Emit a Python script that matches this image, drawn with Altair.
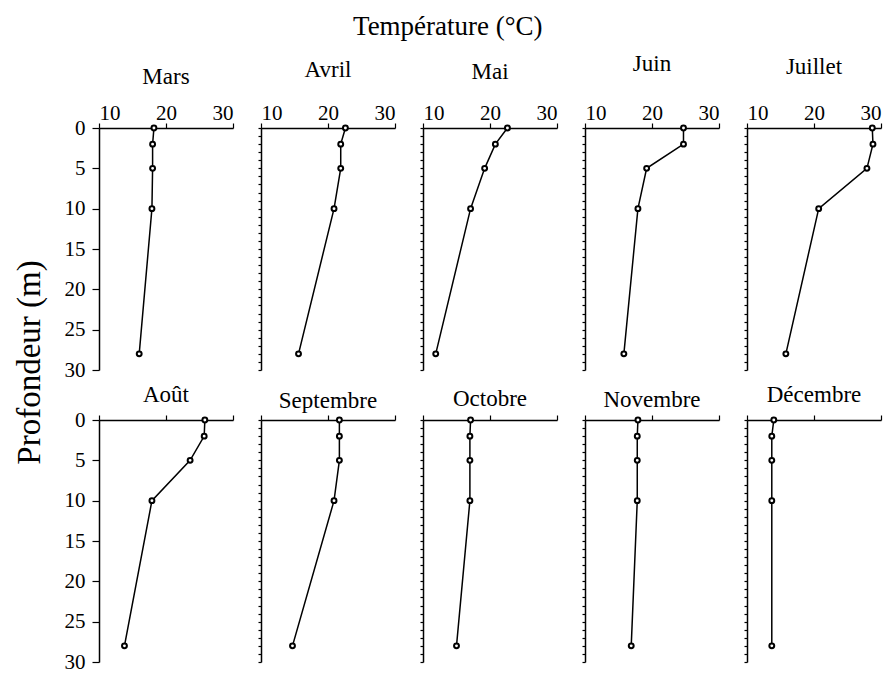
import altair as alt
import pandas as pd

months = ["Mars", "Avril", "Mai", "Juin", "Juillet",
          "Août", "Septembre", "Octobre", "Novembre", "Décembre"]
depths = [0, 2, 5, 10, 28]
temps = {
    "Mars":      [18.2, 18.0, 18.0, 17.9, 16.0],
    "Avril":     [22.6, 21.9, 21.9, 20.9, 15.6],
    "Mai":       [22.6, 20.8, 19.2, 17.1, 11.9],
    "Juin":      [24.7, 24.7, 19.2, 17.9, 15.8],
    "Juillet":   [28.7, 28.8, 27.9, 20.7, 15.8],
    "Août":      [25.8, 25.7, 23.6, 17.9, 13.8],
    "Septembre": [21.7, 21.7, 21.7, 20.9, 14.7],
    "Octobre":   [17.1, 17.0, 17.0, 17.0, 15.0],
    "Novembre":  [17.9, 17.8, 17.8, 17.8, 16.9],
    "Décembre":  [14.0, 13.7, 13.7, 13.7, 13.7],
}
x_ticks = [10, 20, 30]
y_major = [0, 5, 10, 15, 20, 25, 30]
y_minor = list(range(0, 31))

rows = []
for m in months:
    for d, t in zip(depths, temps[m]):
        rows.append({"mois": m, "prof": d, "temp": t})
df = pd.DataFrame(rows)

FONT = "Liberation Serif"
title_offsets = [13, 20, 18, 26, 23, 2, 1, 3, 2, 7]
panels = []
for i, m in enumerate(months):
    row = i // 5
    col = i % 5
    xaxis = alt.Axis(orient="top", values=x_ticks, labels=(row == 0), title=None,
                     grid=False, tickSize=5, labelPadding=0)
    if col == 0:
        yaxis = alt.Axis(values=y_major, title=None, grid=False, tickSize=7, labelPadding=7)
    else:
        yaxis = alt.Axis(values=y_minor, labels=False, title=None, grid=False, tickSize=3)
    x = alt.X("temp:Q", scale=alt.Scale(domain=[10, 30], nice=False, zero=False), axis=xaxis)
    y = alt.Y("prof:Q", scale=alt.Scale(domain=[0, 30], reverse=True, nice=False), axis=yaxis)
    base = alt.Chart(df).transform_filter(alt.datum.mois == m)
    line = base.mark_line(color="black", strokeWidth=1.5).encode(x=x, y=y, order="prof:Q")
    pts = base.mark_point(shape="circle", size=24, filled=False, color="black",
                          fill="white", fillOpacity=1, strokeWidth=2).encode(x=x, y=y)
    panels.append(
        alt.layer(line, pts).properties(
            width=134, height=242,
            title=alt.TitleParams(m, font=FONT, fontSize=23, fontWeight="normal",
                                  offset=title_offsets[i])
        )
    )

inner = alt.concat(*panels, columns=5, spacing={"row": 50, "column": 28},
                   bounds="flush").properties(
    title=alt.TitleParams("Profondeur (m)", orient="left", anchor="middle",
                          font=FONT, fontSize=33, fontWeight="normal", offset=17)
)

chart = alt.vconcat(inner).properties(
    title=alt.TitleParams("Température (°C)", anchor="middle", font=FONT,
                          fontSize=27, fontWeight="normal", offset=12)
).configure_view(strokeWidth=0).configure_axis(
    labelFont=FONT, labelFontSize=21, labelColor="black",
    domainColor="black", tickColor="black", domainWidth=1.5, tickWidth=1.2
).configure_title(color="black")

chart.save("out.html", embed_options={"renderer": "svg", "actions": False})
